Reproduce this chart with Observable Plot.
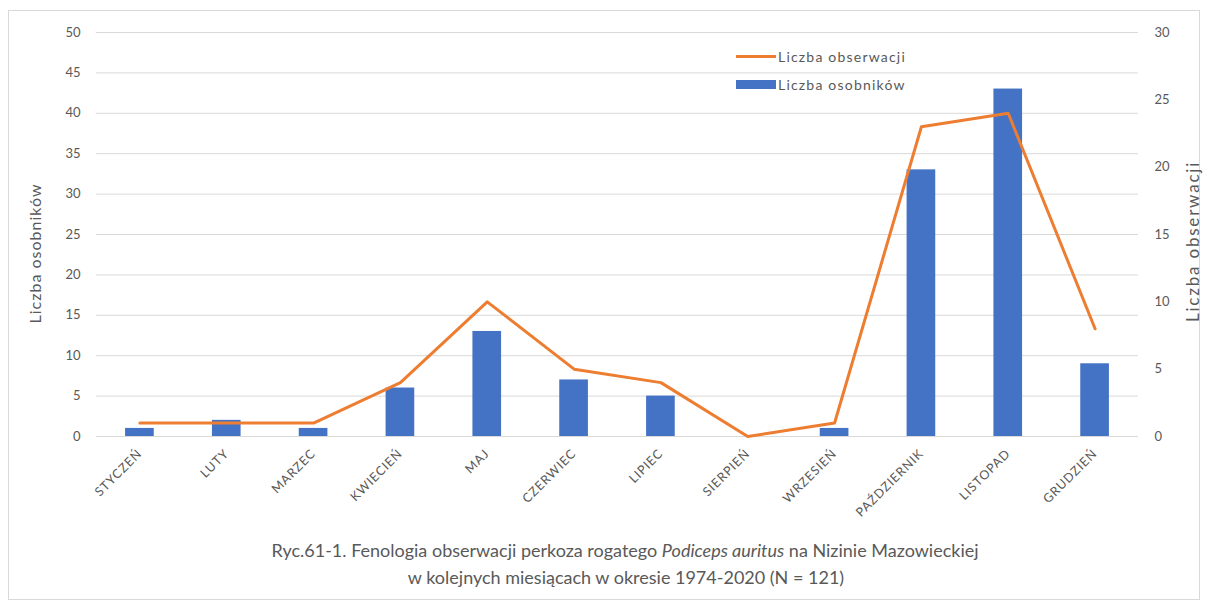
<!DOCTYPE html>
<html>
<head>
<meta charset="utf-8">
<script src="https://cdn.jsdelivr.net/npm/d3@7"></script>
<script src="https://cdn.jsdelivr.net/npm/@observablehq/plot@0.6"></script>
<style>
  html, body { margin: 0; padding: 0; background: #fff; }
  #wrap { position: relative; width: 1206px; height: 603px; overflow: hidden; font-family: Lato, "Open Sans", sans-serif; }
  #frame { position: absolute; left: 8px; top: 10px; width: 1192px; height: 590px; border: 1px solid #d9d9d9; box-sizing: border-box; }
  #chart { position: absolute; left: 0; top: 0; }
  .legend { position: absolute; left: 736px; font-size: 14px; letter-spacing: 1.2px; color: #595959; display: flex; align-items: center; white-space: nowrap; }
  .legend .sw { width: 40px; margin-right: 2px; }
  .cap { position: absolute; font-size: 18px; color: #595959; white-space: nowrap; transform: translateX(-50%); }
  .ttl-left text { letter-spacing: 1px; }
  .ttl-right text { letter-spacing: 1.8px; }
  #chart g[aria-label="x-axis tick label"] text { letter-spacing: 0.9px; }
</style>
</head>
<body>
<div id="wrap">
  <div id="frame"></div>
  <div id="chart"></div>
  <div class="legend" style="top:48px"><div class="sw" style="height:3px;background:#ED7D31"></div>Liczba obserwacji</div>
  <div class="legend" style="top:76px"><div class="sw" style="height:9px;background:#4472C4"></div>Liczba osobników</div>
  <div class="cap" style="left:625px; top:539px">Ryc.61-1. Fenologia obserwacji perkoza rogatego <i>Podiceps auritus</i> na Nizinie Mazowieckiej</div>
  <div class="cap" style="left:626px; top:566px">w kolejnych miesiącach w okresie 1974-2020 (N = 121)</div>
</div>
<script>
const months = ["STYCZEŃ","LUTY","MARZEC","KWIECIEŃ","MAJ","CZERWIEC","LIPIEC","SIERPIEŃ","WRZESIEŃ","PAŹDZIERNIK","LISTOPAD","GRUDZIEŃ"];
const individuals = [1, 2, 1, 6, 13, 7, 5, 0, 1, 33, 43, 9];
const observations = [1, 1, 1, 4, 10, 5, 4, 0, 1, 23, 24, 8];
const leftTicks = [0, 5, 10, 15, 20, 25, 30, 35, 40, 45, 50];
const rightTicks = [0, 5, 10, 15, 20, 25, 30];
const leftTitle = "Liczba osobników";
const rightTitle = "Liczba obserwacji";
const leftMax = 50, rightMax = 30;
const k = leftMax / rightMax;

const data = months.map((m, i) => ({month: m, ind: individuals[i], obs: observations[i]}));

const chart = Plot.plot({
  width: 1206,
  height: 536,
  marginTop: 32,
  marginBottom: 100,
  marginLeft: 96,
  marginRight: 68,
  style: {fontFamily: "Lato, 'Open Sans', sans-serif", fontSize: "12px", color: "#595959", background: "transparent"},
  x: {domain: months, paddingInner: 0.67, paddingOuter: 0.335, round: false, label: null},
  y: {domain: [0, leftMax], label: null},
  marks: [
    Plot.gridY(leftTicks, {stroke: "#d9d9d9", strokeOpacity: 1}),
    Plot.barY(data, {x: "month", y: "ind", fill: "#4472C4"}),
    Plot.lineY(data, {x: "month", y: d => d.obs * k, stroke: "#ED7D31", strokeWidth: 3, strokeLinejoin: "round", strokeLinecap: "round"}),
    Plot.axisX({tickRotate: -45, tickSize: 0, tickPadding: 15, fontSize: 12.5, label: null}),
    Plot.axisY(leftTicks, {anchor: "left", tickSize: 0, tickPadding: 16, fontSize: 13, label: null}),
    Plot.axisY(rightTicks.map(v => v * k), {anchor: "right", tickSize: 0, tickPadding: 16, fontSize: 13, tickFormat: d => String(Math.round(d / k)), label: null}),
    Plot.text([leftTitle], {frameAnchor: "left", text: d => d, textAnchor: "middle", rotate: -90, dx: -61, dy: 19, fontSize: 16, fill: "#595959", className: "ttl-left"}),
    Plot.text([rightTitle], {frameAnchor: "right", text: d => d, textAnchor: "middle", rotate: -90, dx: 55, dy: 7, fontSize: 17, fill: "#595959", className: "ttl-right"})
  ]
});
document.getElementById("chart").appendChild(chart);
</script>
</body>
</html>
